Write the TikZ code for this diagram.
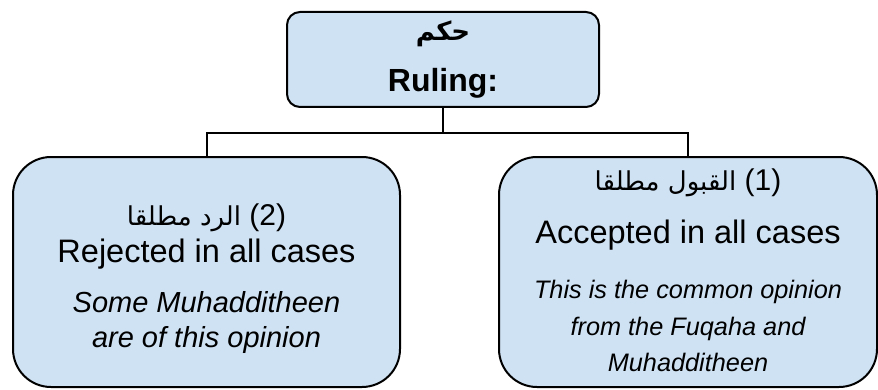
\documentclass[tikz,border=0pt]{standalone}
\usepackage{fontspec}
\setmainfont{Liberation Sans}
\newfontfamily\arabicfont[Script=Arabic]{DejaVu Sans}
\TeXXeTstate=1
\usetikzlibrary{positioning}
\definecolor{boxblue}{HTML}{CFE2F3}
\tikzset{
  rulebox/.style={draw, line width=2pt, fill=boxblue, rounded corners=#1},
  txt/.style={anchor=base, inner sep=0pt},
  link/.style={line width=2pt}
}
\begin{document}
\begin{tikzpicture}[x=1pt,y=1pt]
	\useasboundingbox (0,0) rectangle (878,389);
	% boxes
	\node[rulebox=13pt, minimum width=312pt, minimum height=95pt] (ruling) at (443,329.5) {};
	\node[rulebox=38pt, minimum width=387pt, minimum height=230pt] (rejected) at (206.5,117) {};
	\node[rulebox=38pt, minimum width=378pt, minimum height=230pt] (accepted) at (688,117) {};

	% links
	\draw[link] (ruling.south) -- ++(0,-25) coordinate (fork);
	\draw[link] (fork) -| (rejected.north);
	\draw[link] (fork) -| (accepted.north);

	% top text
	\node[txt] (rulingar) at (443,348) {\arabicfont\bfseries\fontsize{26}{30}\selectfont\beginR حكم\endR};
	\node[txt] (rulingen) at (443,297) {\bfseries\fontsize{32}{38}\selectfont Ruling:};

	% left text
	\node[txt] (rejectedar) at (206.5,164) {\fontsize{30}{36}\selectfont{\arabicfont\fontsize{26}{30}\selectfont\beginR الرد مطلقا\endR}\ (2)};
	\node[txt] (rejecteden) at (206.5,127) {\fontsize{32.5}{39}\selectfont Rejected in all cases};
	\node[txt] (rejectednote1) at (206.5,77) {\itshape\fontsize{29}{35}\selectfont Some Muhadditheen};
	\node[txt] (rejectednote2) at (206.5,42) {\itshape\fontsize{29}{35}\selectfont are of this opinion};

	% right text
	\node[txt] (acceptedar) at (688,199) {\fontsize{30}{36}\selectfont{\arabicfont\fontsize{26}{30}\selectfont\beginR القبول مطلقا\endR}\ (1)};
	\node[txt] (accepteden) at (688,146) {\fontsize{32.5}{39}\selectfont Accepted in all cases};
	\node[txt] (acceptednote1) at (688,91) {\itshape\fontsize{25.3}{30}\selectfont This is the common opinion};
	\node[txt] (acceptednote2) at (688,54) {\itshape\fontsize{25.3}{30}\selectfont from the Fuqaha and};
	\node[txt] (acceptednote3) at (688,18) {\itshape\fontsize{25.3}{30}\selectfont Muhadditheen};
\end{tikzpicture}
\end{document}
